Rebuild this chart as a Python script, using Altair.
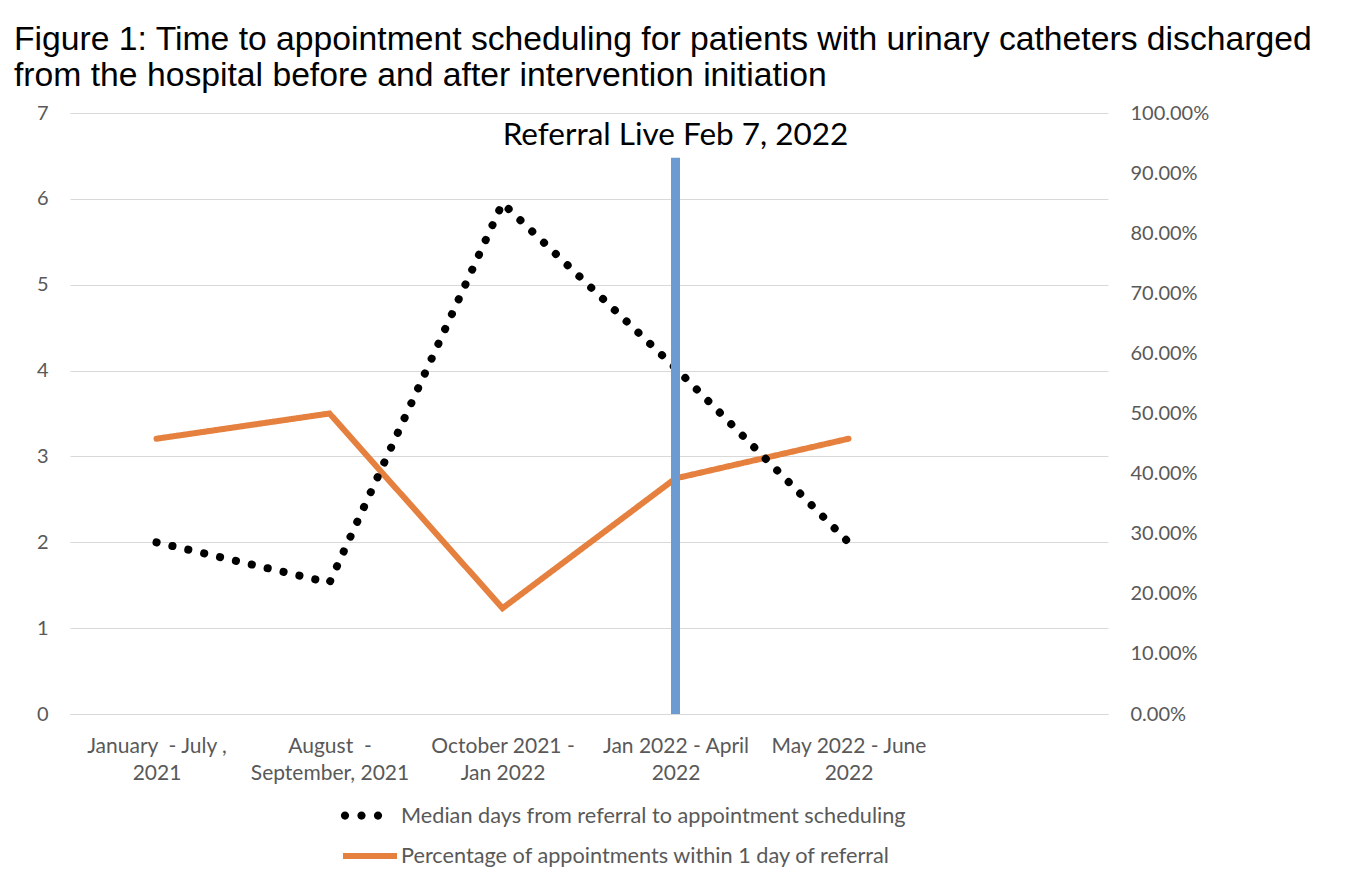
import altair as alt
import pandas as pd

# ---- data ----
categories = [
    "January\u00a0 - July ,\n2021",
    "August\u00a0 -\nSeptember, 2021",
    "October 2021 -\nJan 2022",
    "Jan 2022 - April\n2022",
    "May 2022 - June\n2022",
    " ",
]
median_days = [2.0, 1.53, 5.95, 4.03, 2.0]
pct_within_1day = [0.458, 0.50, 0.176, 0.392, 0.458]
series_names = [
    "Median days from referral to appointment scheduling",
    "Percentage of appointments within 1 day of referral",
]
referral_category = ["Jan 2022 - April\n2022"]
referral_line_top = [6.48]
referral_label_y = [6.73]
referral_label = ["Referral Live Feb 7, 2022"]

df_median = pd.DataFrame({"category": categories[:5], "value": median_days,
                          "series": series_names[0]})
df_pct = pd.DataFrame({"category": categories[:5], "value": pct_within_1day,
                       "series": series_names[1]})
df_ref = pd.DataFrame({"category": referral_category, "top": referral_line_top,
                       "ly": referral_label_y, "label": referral_label})

FONT = "Lato"
GRAY = "#595959"
GRID = "#d9d9d9"
ORANGE = "#E5803F"
BLUE = "#6C9BD2"

# three round dots for the legend symbol of the dotted series
r = 0.25
DOTS_PATH = " ".join(
    f"M{cx - r},0a{r},{r} 0 1,0 {2 * r},0a{r},{r} 0 1,0 {-2 * r},0Z" for cx in (-1, 0, 1)
)

x_enc = alt.X(
    "category:N",
    scale=alt.Scale(type="point", domain=categories, padding=0.5),
    sort=categories,
    axis=alt.Axis(
        title=None, labelAngle=0, labelExpr="split(datum.value, '\\n')",
        labelFont=FONT, labelFontSize=21, labelColor=GRAY, labelLineHeight=27,
        labelPadding=21, ticks=False, domainColor=GRID, domainWidth=1, grid=False,
    ),
)

days_scale = alt.Scale(domain=[0, 7], nice=False)
days_axis = alt.Axis(
    title=None, values=list(range(8)), format="d", grid=True, gridColor=GRID,
    gridWidth=1, domain=False, ticks=False, labelPadding=22, labelFont=FONT,
    labelFontSize=20, labelColor=GRAY, orient="left",
)

pct_layer = alt.Chart(df_pct).mark_line(
    color=ORANGE, strokeWidth=6, strokeCap="round"
).encode(
    x=x_enc,
    y=alt.Y("value:Q", scale=alt.Scale(domain=[0, 1], nice=False),
            axis=alt.Axis(
                title=None, values=[i / 10 for i in range(11)], format=".2%",
                grid=False, domain=False, ticks=False, labelPadding=22,
                labelFont=FONT, labelFontSize=20, labelColor=GRAY, orient="right",
            )),
    strokeDash=alt.StrokeDash(
        "series:N",
        scale=alt.Scale(domain=[series_names[1]], range=[[1, 0]]),
        legend=alt.Legend(
            title=None, orient="none", legendX=270, legendY=713,
            symbolType="stroke", symbolSize=2916, symbolStrokeColor=ORANGE,
            symbolStrokeWidth=6,
            labelFont=FONT, labelFontSize=21.7, labelColor=GRAY, labelOffset=1,
            labelLimit=1000, padding=0,
        ),
    ),
)

median_layer = alt.Chart(df_median).mark_line(
    color="black", strokeWidth=8, strokeCap="round", strokeDash=[0.1, 16.2]
).encode(
    x=x_enc,
    y=alt.Y("value:Q", scale=days_scale, axis=days_axis),
    opacity=alt.Opacity(
        "series:N",
        scale=alt.Scale(domain=[series_names[0]], range=[1, 1]),
        legend=alt.Legend(
            title=None, orient="none", legendX=275, legendY=686,
            symbolType=DOTS_PATH, symbolSize=1089, symbolFillColor="black",
            symbolStrokeWidth=0,
            labelFont=FONT, labelFontSize=21.7, labelColor=GRAY, labelOffset=23,
            labelLimit=1000, padding=0,
        ),
    ),
)

rule_layer = alt.Chart(df_ref).mark_rule(color=BLUE, strokeWidth=9).encode(
    x=alt.X("category:N"),
    y=alt.Y("zero:Q"),
    y2="top:Q",
).transform_calculate(zero="0")

text_layer = alt.Chart(df_ref).mark_text(
    font=FONT, fontSize=31.5, color="black", align="center", baseline="middle"
).encode(
    x=alt.X("category:N"),
    y=alt.Y("ly:Q"),
    text="label:N",
)

days_group = alt.layer(median_layer, rule_layer, text_layer)

chart = alt.layer(pct_layer, days_group).resolve_scale(
    y="independent"
).properties(
    width=1038,
    height=601,
    autosize=alt.AutoSizeParams(type="none"),
    padding={"left": 62, "top": 105, "right": 240, "bottom": 160},
    title=alt.TitleParams(
        text=["Figure 1: Time to appointment scheduling for patients with urinary catheters discharged",
              "from the hospital before and after intervention initiation"],
        anchor="start", frame="group", dx=-56, offset=10,
        font="Liberation Sans", fontSize=33.7, fontWeight="normal", color="black",
        lineHeight=36,
    ),
).configure_view(stroke=None)

chart.save("out.html", embed_options={"renderer": "svg", "actions": False})
